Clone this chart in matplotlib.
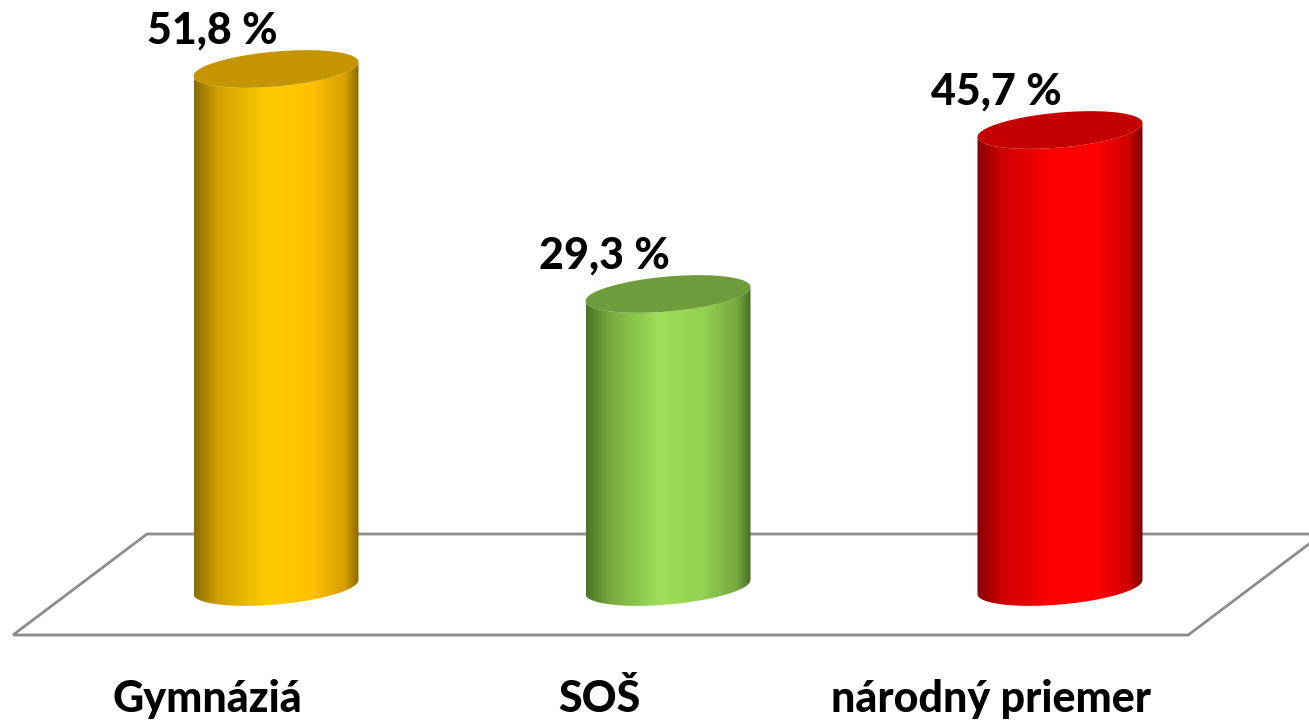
import numpy as np
import matplotlib
matplotlib.use("Agg")
import matplotlib.pyplot as plt
from matplotlib.patches import Polygon
from matplotlib.colors import LinearSegmentedColormap

categories = ["Gymnáziá", "SOŠ", "národný priemer"]
values = [51.8, 29.3, 45.7]
value_labels = ["51,8 %", "29,3 %", "45,7 %"]
side_colors = [
    ["#8c6c00", "#d2a000", "#ffcc00", "#ffc000", "#d69e00", "#8a6a00"],
    ["#4a7624", "#78aa40", "#9ee05a", "#92d050", "#74a63e", "#4a6e26"],
    ["#880000", "#cc0000", "#ff0000", "#ff0000", "#cc0000", "#780000"],
]
top_colors = ["#c49500", "#6e9c3c", "#c40000"]
stops = [0.0, 0.15, 0.45, 0.72, 0.92, 1.0]

W, H = 1309, 721
fig = plt.figure(figsize=(W / 100, H / 100), dpi=100)
ax = fig.add_axes([0, 0, 1, 1])
px_per_cat = 392.0
px_per_unit = 10.0
x0_px, y0_px = 276.0, 587.0
xlim = (-x0_px / px_per_cat, (W - x0_px) / px_per_cat)
ylim = (-(H - y0_px) / px_per_unit, y0_px / px_per_unit)

# floor (3D base plane)
front_y, back_y = -4.8, 5.3
fl, fr, shift = -0.671, 2.327, 0.342
floor = Polygon([[fl, front_y], [fr, front_y], [fr + shift, back_y], [fl + shift, back_y]],
                closed=True, facecolor="white", edgecolor="#8c8c8c", linewidth=2, zorder=1)
ax.add_patch(floor)

a = 82.5 / px_per_cat
b = 1.75
k = 0.7
t_low = np.linspace(np.pi, 2 * np.pi, 120)
t_all = np.linspace(0, 2 * np.pi, 240)

for i, (v, cols, tc) in enumerate(zip(values, side_colors, top_colors)):
    cx = i
    bx = cx + a * np.cos(t_low)
    by = 0 + b * np.sin(t_low) + k * np.cos(t_low)
    tx = cx + a * np.cos(t_low[::-1])
    ty = v + b * np.sin(t_low[::-1]) + k * np.cos(t_low[::-1])
    body = np.vstack([np.column_stack([bx, by]), np.column_stack([tx, ty])])
    patch = Polygon(body, closed=True, facecolor="none", edgecolor="none", zorder=2)
    ax.add_patch(patch)
    cmap = LinearSegmentedColormap.from_list("c%d" % i, list(zip(stops, cols)))
    grad = np.linspace(0, 1, 256)[np.newaxis, :]
    im = ax.imshow(grad, cmap=cmap, extent=(cx - a, cx + a, -3, v + 3),
                   aspect="auto", zorder=2, interpolation="bilinear")
    im.set_clip_path(patch)
    ex = cx + a * np.cos(t_all)
    ey = v + b * np.sin(t_all) + k * np.cos(t_all)
    ax.add_patch(Polygon(np.column_stack([ex, ey]), closed=True, facecolor=tc,
                         edgecolor="none", zorder=3))
    ax.text(cx - 0.163, v + 2.5, value_labels[i], ha="center", va="baseline",
            fontsize=31, fontweight="black", family="Lato", color="black", zorder=4)
    ax.text(cx - 0.176, -12.5, categories[i], ha="center", va="baseline",
            fontsize=31, fontweight="black", family="Lato", color="black", zorder=4)

ax.set_xlim(*xlim)
ax.set_ylim(*ylim)
ax.axis("off")
fig.savefig("out.png", dpi=100)
